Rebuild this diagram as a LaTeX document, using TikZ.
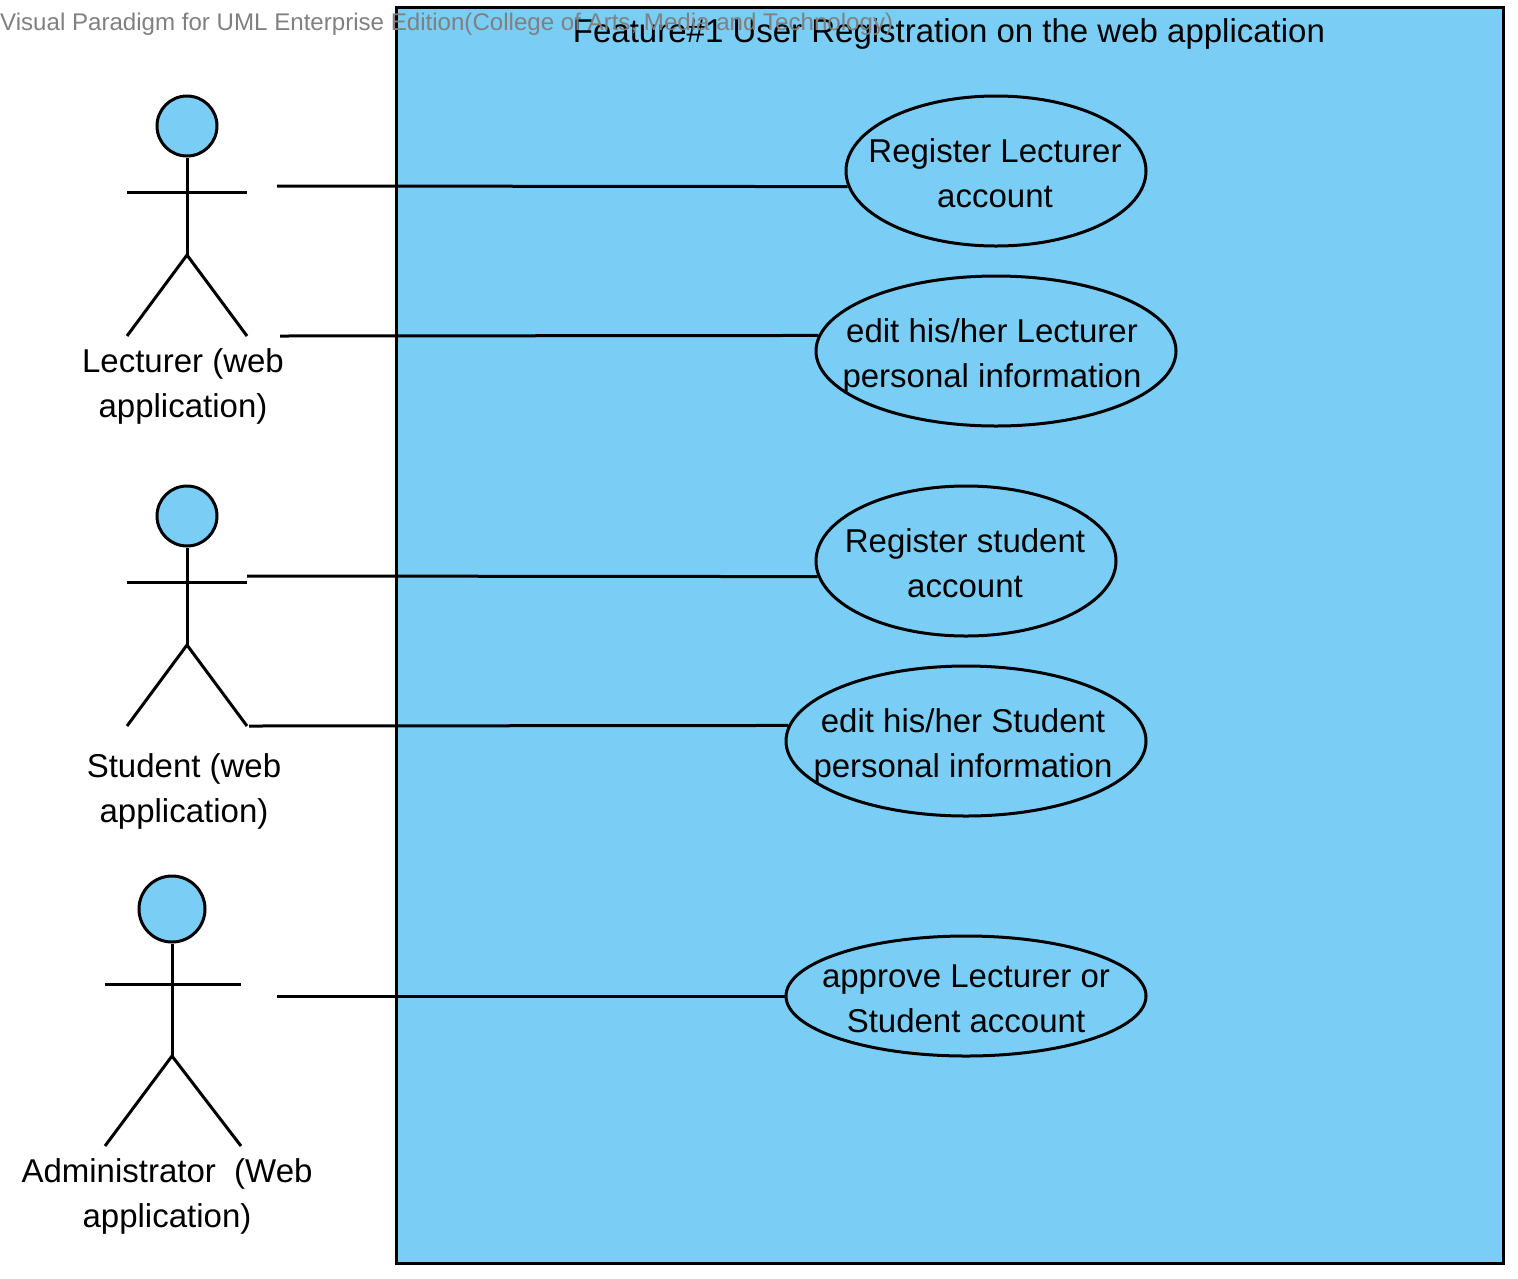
\documentclass[tikz,border=0pt]{standalone}
\usepackage{fontspec}
\setmainfont{Liberation Sans}
\usetikzlibrary{shapes,positioning}
\definecolor{ucblue}{RGB}{122,206,245}
\definecolor{markgray}{RGB}{128,128,128}
\tikzset{
    uml/.style={draw=black, fill=ucblue, line width=3pt},
    usecase/.style={ellipse, uml, inner sep=0pt, minimum height=150pt},
    head/.style={circle, uml, inner sep=0pt},
    limb/.style={draw=black, line width=3pt},
    assoc/.style={draw=black, line width=3pt},
    txt/.style={align=center, inner sep=0pt, font=\fontsize{33}{45}\selectfont}
}

\begin{document}
\begin{tikzpicture}[x=1pt, y=-1pt]
    \useasboundingbox (0,0) rectangle (1518,1278);

    % System box
    \node[rectangle, uml, minimum width=1107pt, minimum height=1256pt, inner sep=0pt] (system) at (949.8,635.3) {};
    \node[txt] (systemTitle) at (949,33.5) {Feature\#1 User Registration on the web application};
    \node[anchor=west, inner sep=0pt, text=markgray, font=\fontsize{24.1}{28}\selectfont] (watermark) at (0,24) {Visual Paradigm for UML Enterprise Edition(College of Arts, Media and Technology)};

    % Use cases
    \node[usecase, minimum width=300pt] (regLecturer) at (996,171) {};
    \node[usecase, minimum width=360pt] (editLecturer) at (996,351) {};
    \node[usecase, minimum width=300pt] (regStudent) at (966,561) {};
    \node[usecase, minimum width=360pt] (editStudent) at (966,741) {};
    \node[usecase, minimum width=360pt, minimum height=120pt] (approve) at (966,996) {};
    \node[txt] (regLecturerText) at (995,173.5) {Register Lecturer\\account};
    \node[txt] (editLecturerText) at (992,356.5) {edit his/her Lecturer\\personal information};
    \node[txt] (regStudentText) at (965,563.5) {Register student\\account};
    \node[txt] (editStudentText) at (963,746.5) {edit his/her Student\\personal information};
    \node[txt] (approveText) at (966,998.5) {approve Lecturer or\\Student account};

    % Lecturer
    \node[head, minimum size=60pt] (lecHead) at (187,126) {};
    \coordinate (lecHip) at (187,255);
    \coordinate (lecArmL) at (127,192);
    \coordinate (lecArmR) at (247,192);
    \coordinate (lecFootL) at (127,336);
    \coordinate (lecFootR) at (247,336);
    \draw[limb] (lecHead.south) -- (lecHip);
    \draw[limb] (lecArmL) -- (lecArmR);
    \draw[limb] (lecFootL) -- (lecHip) -- (lecFootR);
    \node[txt] (lecLabel) at (183,386.5) {Lecturer (web\\application)};

    % Student
    \node[head, minimum size=60pt] (stuHead) at (187,516) {};
    \coordinate (stuHip) at (187,645);
    \coordinate (stuArmL) at (127,582);
    \coordinate (stuArmR) at (247,582);
    \coordinate (stuFootL) at (127,726);
    \coordinate (stuFootR) at (247,726);
    \draw[limb] (stuHead.south) -- (stuHip);
    \draw[limb] (stuArmL) -- (stuArmR);
    \draw[limb] (stuFootL) -- (stuHip) -- (stuFootR);
    \node[txt] (stuLabel) at (184,791.5) {Student (web\\application)};

    % Administrator
    \node[head, minimum size=66pt] (admHead) at (172,909) {};
    \coordinate (admHip) at (172,1056);
    \coordinate (admArmL) at (105,984);
    \coordinate (admArmR) at (241,984);
    \coordinate (admFootL) at (105,1146);
    \coordinate (admFootR) at (241,1146);
    \draw[limb] (admHead.south) -- (admHip);
    \draw[limb] (admArmL) -- (admArmR);
    \draw[limb] (admFootL) -- (admHip) -- (admFootR);
    \node[txt] (admLabel) at (167,1196.5) {Administrator~~(Web\\application)};

    % Associations
    \coordinate (lecEndA) at (277,186);
    \coordinate (lecEndB) at (280,336);
    \coordinate (stuEndA) at (247,576);
    \coordinate (stuEndB) at (249,726);
    \coordinate (admEnd) at (277,996);
    \draw[assoc] (lecEndA) -- (regLecturer.186.7);
    \draw[assoc] (lecEndB) -- (editLecturer.175.9);
    \draw[assoc] (stuEndA) -- (regStudent.186.7);
    \draw[assoc] (stuEndB) -- (editStudent.175.9);
    \draw[assoc] (admEnd) -- (approve.west);
\end{tikzpicture}
\end{document}
